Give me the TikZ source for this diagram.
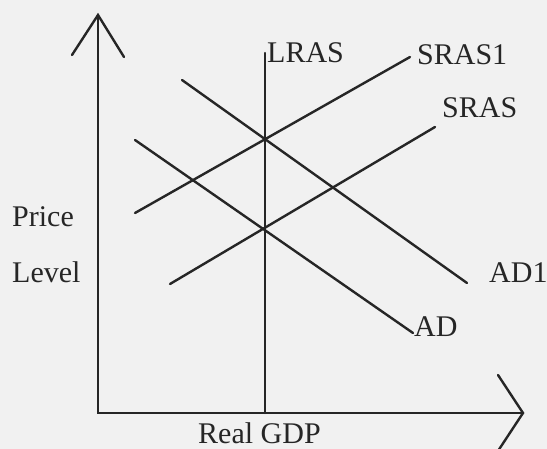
\documentclass[tikz,border=0pt]{standalone}
\usepackage{fontspec}
\setmainfont{Liberation Serif}
\definecolor{bgc}{RGB}{241,241,241}
\definecolor{ink}{RGB}{38,38,38}
\begin{document}
\begin{tikzpicture}[x=1pt,y=-1pt,
  curve/.style={draw=ink,line width=2.4pt,line cap=round},
  axis/.style={draw=ink,line width=2.4pt,line cap=round,line join=miter},
  lbl/.style={anchor=base west,inner sep=0pt,text=ink,font=\fontsize{30}{36}\selectfont}]
\fill[bgc] (0,0) rectangle (547,449);
\useasboundingbox (0,0) rectangle (547,449);
% axes
\coordinate (ytop) at (98,15);
\coordinate (orig) at (98,413);
\coordinate (xend) at (523,413);
\coordinate (yal) at (72,55);
\coordinate (yar) at (124,57);
\coordinate (xau) at (498,375);
\coordinate (xad) at (498,451);
\draw[axis] (ytop) -- (orig) -- (xend);
\draw[axis] (yal) -- (ytop) -- (yar);
\draw[axis] (xau) -- (xend) -- (xad);
% curves
\coordinate (lrasT) at (265,53);
\coordinate (lrasB) at (265,413);
\draw[curve] (lrasT) -- (lrasB);
\coordinate (sras1A) at (135,213);
\coordinate (sras1B) at (410,57);
\draw[curve] (sras1A) -- (sras1B);
\coordinate (srasA) at (170,284);
\coordinate (srasB) at (435,127);
\draw[curve] (srasA) -- (srasB);
\coordinate (ad1A) at (182,80);
\coordinate (ad1B) at (467,283);
\draw[curve] (ad1A) -- (ad1B);
\coordinate (adA) at (135,140);
\coordinate (adB) at (413,333);
\draw[curve] (adA) -- (adB);
% labels
\node[lbl] (lLRAS) at (267,63) {LRAS};
\node[lbl] (lSRAS1) at (417,65) {SRAS1};
\node[lbl] (lSRAS) at (442,118) {SRAS};
\node[lbl] (lAD1) at (489,283) {AD1};
\node[lbl] (lAD) at (414,337) {AD};
\node[lbl] (lPrice) at (12,227) {Price};
\node[lbl] (lLevel) at (12,283) {Level};
\node[lbl] (lGDP) at (198,444) {Real GDP};
\end{tikzpicture}
\end{document}
